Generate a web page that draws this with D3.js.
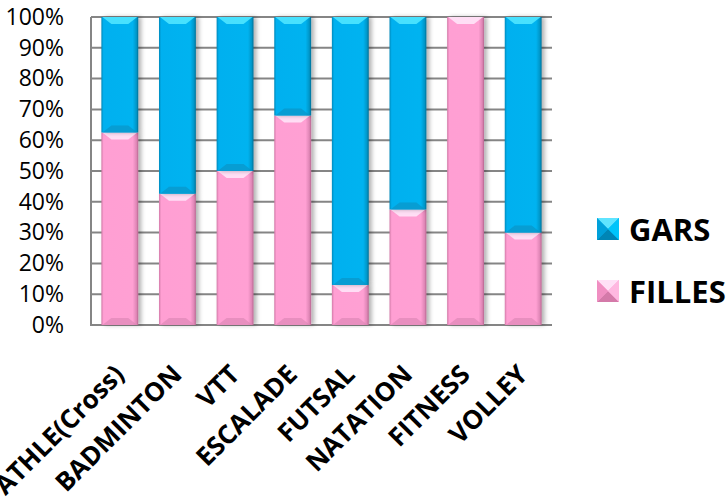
<!DOCTYPE html>
<html><head><meta charset="utf-8">
<script src="https://cdn.jsdelivr.net/npm/d3@7"></script>
<style>
html,body{margin:0;padding:0;background:#fff;}
svg{display:block;}
text{font-family:"Open Sans",sans-serif;fill:#000;}
</style></head>
<body><svg id="c" width="727" height="499"></svg>
<script>
const categories = ["ATHLE(Cross)","BADMINTON","VTT","ESCALADE","FUTSAL","NATATION","FITNESS","VOLLEY"];
const filles = [0.625, 0.426, 0.50, 0.68, 0.13, 0.375, 1.00, 0.30];
const gars = filles.map(v => 1 - v);
const seriesNames = ["GARS","FILLES"];
const yTicks = [0,0.1,0.2,0.3,0.4,0.5,0.6,0.7,0.8,0.9,1];

const svg = d3.select("#c");
const defs = svg.append("defs");

const x = d3.scaleBand().domain(categories).range([91, 552]).paddingInner(0.36).paddingOuter(0.18);
const y = d3.scaleLinear().domain([0,1]).range([325, 17]);

function hgrad(id, stops){
  const g = defs.append("linearGradient").attr("id",id).attr("x1","0").attr("x2","1").attr("y1","0").attr("y2","0");
  stops.forEach(s=>g.append("stop").attr("offset",s[0]).attr("stop-color",s[1]));
}
hgrad("gBlue",[[0,"#0089bb"],[0.06,"#00b0ef"],[0.85,"#00b3f0"],[0.95,"#0096c8"],[1,"#006f95"]]);
hgrad("gPink",[[0,"#d27aa8"],[0.06,"#ff9fd3"],[0.85,"#ffa0d3"],[0.95,"#df86b6"],[1,"#b86690"]]);
const f = defs.append("filter").attr("id","sh").attr("x","-20%").attr("y","-5%").attr("width","150%").attr("height","110%");
f.append("feDropShadow").attr("dx",3).attr("dy",0).attr("stdDeviation",2).attr("flood-color","#000").attr("flood-opacity",0.3);

// gridlines
const grid = svg.append("g");
grid.selectAll("line").data(yTicks).join("line")
  .attr("x1",91).attr("x2",552).attr("y1",d=>y(d)).attr("y2",d=>y(d))
  .attr("stroke","#858585").attr("stroke-width",2);
grid.append("line").attr("x1",91).attr("x2",91).attr("y1",y(1)).attr("y2",y(0)+1)
  .attr("stroke","#858585").attr("stroke-width",2);

// y axis labels
const yAxis = d3.axisLeft(y).tickValues(yTicks).tickFormat(d3.format(".0%")).tickSize(0).tickPadding(27);
const yg = svg.append("g").attr("transform","translate(91,0)").call(yAxis);
yg.select(".domain").remove();
yg.selectAll("text").style("font-family","'Open Sans',sans-serif").style("font-size","23px").attr("fill","#000");

// stacked bars
const stackData = categories.map((c,i)=>({cat:c, FILLES:filles[i], GARS:gars[i]}));
const stack = d3.stack().keys(["FILLES","GARS"])(stackData);
const fills = {FILLES:{g:"url(#gPink)", top:"#ffe4f8", bot:"#d983b2"}, GARS:{g:"url(#gBlue)", top:"#4fe6ff", bot:"#0b8fbf"}};
const bars = svg.append("g");
stack.forEach(layer=>{
  const key = layer.key;
  layer.forEach(d=>{
    if (d[1]-d[0] <= 0) return;
    const x0 = x(d.data.cat), w = x.bandwidth();
    const yt = y(d[1]), yb = y(d[0]);
    const g = bars.append("g");
    g.append("rect").attr("x",x0).attr("y",yt).attr("width",w).attr("height",yb-yt)
      .attr("fill",fills[key].g).attr("filter","url(#sh)");
    const bh = 7, ins = 10;
    g.append("polygon").attr("points",[[x0+1,yt],[x0+w-1,yt],[x0+w-ins,yt+bh],[x0+ins,yt+bh]].map(p=>p.join(",")).join(" "))
      .attr("fill",fills[key].top).attr("opacity",0.9);
    g.append("polygon").attr("points",[[x0+1,yb],[x0+w-1,yb],[x0+w-ins,yb-bh],[x0+ins,yb-bh]].map(p=>p.join(",")).join(" "))
      .attr("fill",fills[key].bot).attr("opacity",0.6);
  });
});

// x labels
const xl = svg.append("g");
xl.selectAll("text").data(categories).join("text")
  .attr("transform",d=>`translate(${x(d)+x.bandwidth()/2+6},${376}) rotate(-45)`)
  .attr("text-anchor","end")
  .style("font-weight","bold").style("font-size","26px")
  .text(d=>d);

// legend
const leg = svg.append("g");
const legY = [229, 291];
const legCol = {GARS:["#00b0f0","#5fe4ff","#0085b5","#00a0da","#00c4fa"], FILLES:["#ff9ed2","#ffe0f6","#d47aa9","#f08fc2","#ffb8e0"]};
seriesNames.forEach((s,i)=>{
  const cx = 608, cy = legY[i], r = 11;
  const c = legCol[s];
  const g = leg.append("g");
  g.append("rect").attr("x",cx-r).attr("y",cy-r).attr("width",2*r).attr("height",2*r).attr("fill",c[0]);
  g.append("polygon").attr("points",`${cx-r},${cy-r} ${cx+r},${cy-r} ${cx},${cy}`).attr("fill",c[1]);
  g.append("polygon").attr("points",`${cx-r},${cy+r} ${cx+r},${cy+r} ${cx},${cy}`).attr("fill",c[2]);
  g.append("polygon").attr("points",`${cx-r},${cy-r} ${cx-r},${cy+r} ${cx},${cy}`).attr("fill",c[3]);
  g.append("polygon").attr("points",`${cx+r},${cy-r} ${cx+r},${cy+r} ${cx},${cy}`).attr("fill",c[4]);
  leg.append("text").attr("x",629).attr("y",cy+12)
    .style("font-weight","bold").style("font-size","31px").text(s);
});
</script></body></html>
